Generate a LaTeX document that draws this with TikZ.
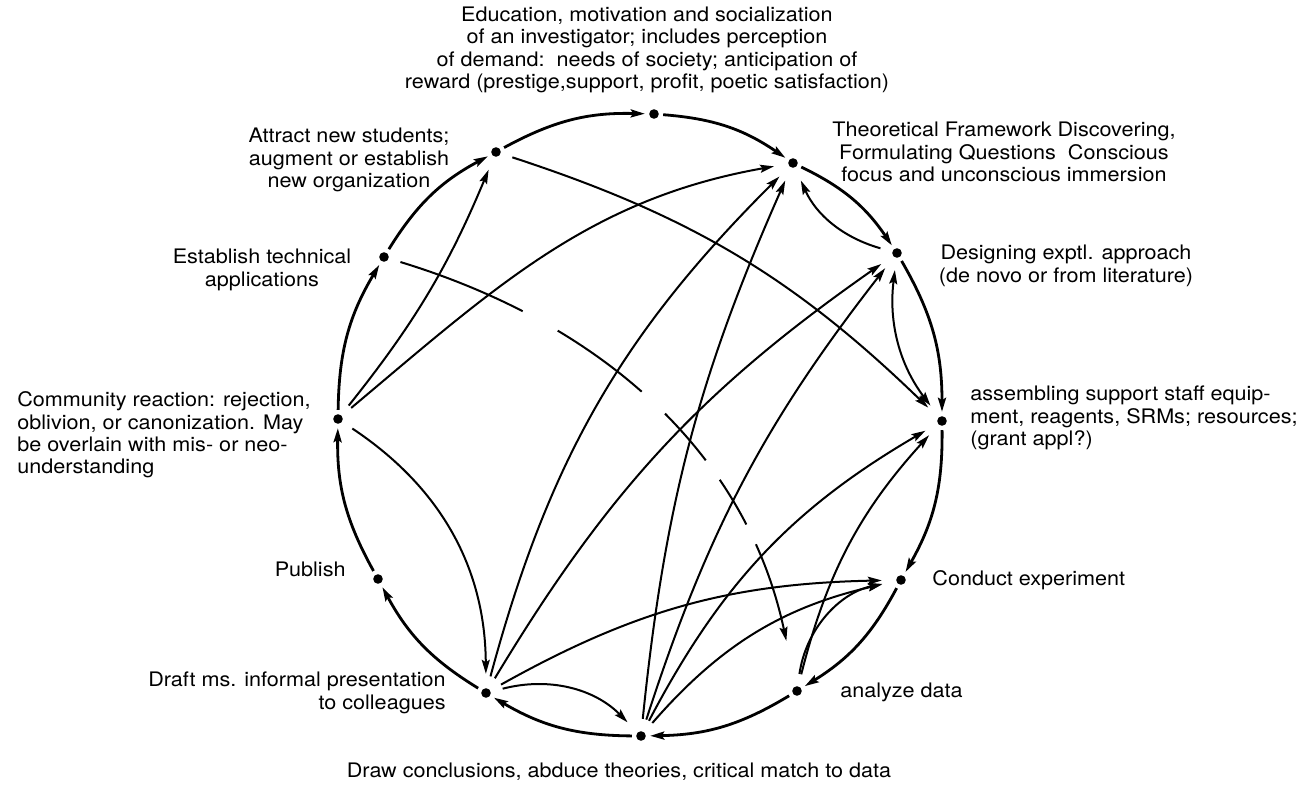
\documentclass[tikz,border=0pt]{standalone}
\usepackage{fontspec}
\setmainfont{TeX Gyre Heros}[FakeStretch=1.08]
\usetikzlibrary{arrows.meta}

\tikzset{
	dot/.style={circle,fill=black,inner sep=0pt,minimum size=4.8pt,outer sep=2.2pt},
	lbl/.style={inner sep=0pt,font=\fontsize{10pt}{11.2pt}\selectfont},
	tip/.style={-{Stealth[length=7pt,width=4pt,inset=1.2pt]}},
	rim/.style={line width=1.4pt,tip},
	link/.style={line width=1pt,tip,shorten >=5pt,shorten <=4pt},
}

\begin{document}
\begin{tikzpicture}[x=0.5pt,y=0.5pt]
	\useasboundingbox (-640,-365) rectangle (675,422);

	\node[dot] (edu) at (14,308) {};
	\node[dot] (theory) at (153,259) {};
	\node[dot] (design) at (257,169) {};
	\node[dot] (assemble) at (302,1) {};
	\node[dot] (conduct) at (261,-158) {};
	\node[dot] (analyze) at (157,-269) {};
	\node[dot] (conclude) at (1,-314) {};
	\node[dot] (draft) at (-154,-271) {};
	\node[dot] (publish) at (-262,-157) {};
	\node[dot] (community) at (-302,3) {};
	\node[dot] (establish) at (-256,165) {};
	\node[dot] (attract) at (-144,270) {};

	\node[lbl,align=center] (eduL) at (7,372) {Education, motivation and socialization\\of an investigator; includes perception\\of demand:\ \ needs of society; anticipation of\\reward (prestige,support, profit, poetic satisfaction)};
	\node[lbl,align=center] (theoryL) at (364,270) {Theoretical Framework Discovering,\\Formulating Questions\ \ Conscious\\focus and unconscious immersion};
	\node[lbl,align=center] (designL) at (426,156) {Designing exptl. approach\\(de novo or from literature)};
	\node[lbl,align=left,anchor=west] (assembleL) at (330,4) {assembling support staff equip-\\ment, reagents, SRMs; resources;\\(grant appl?)};
	\node[lbl,anchor=west] (conductL) at (292,-158) {Conduct experiment};
	\node[lbl,anchor=west] (analyzeL) at (200,-270) {analyze data};
	\node[lbl] (concludeL) at (-21,-350) {Draw conclusions, abduce theories, critical match to data};
	\node[lbl,align=right,anchor=east] (draftL) at (-194,-271) {Draft ms. informal presentation\\to colleagues};
	\node[lbl,anchor=east] (publishL) at (-294,-147) {Publish};
	\node[lbl,align=left,anchor=west] (communityL) at (-623,-13) {Community reaction: rejection,\\oblivion, or canonization. May\\be overlain with mis- or neo-\\understanding};
	\node[lbl,align=center] (establishL) at (-378,152) {Establish technical\\applications};
	\node[lbl,align=center] (attractL) at (-291,262) {Attract new students;\\augment or establish\\new organization};

	\draw[rim] (attract) to[bend left=15] (edu);
	\draw[rim] (edu) to[bend left=15] (theory);
	\draw[rim] (theory) to[bend left=15] (design);
	\draw[rim] (design) to[bend left=15] (assemble);
	\draw[rim] (assemble) to[bend left=15] (conduct);
	\draw[rim] (conduct) to[bend left=15] (analyze);
	\draw[rim] (analyze) to[bend left=15] (conclude);
	\draw[rim] (conclude) to[bend left=15] (draft);
	\draw[rim] (draft) to[bend left=15] (publish);
	\draw[rim] (publish) to[bend left=15] (community);
	\draw[rim] (community) to[bend left=15] (establish);
	\draw[rim] (establish) to[bend left=15] (attract);

	\draw[link] (design) to[bend left=25] (theory);
	\draw[link,{Stealth[length=7pt,width=4pt,inset=1.2pt]}-{Stealth[length=7pt,width=4pt,inset=1.2pt]}] (design) to[bend right=22] (assemble);
	\draw[link] (attract) to[bend left=13] (assemble);
	\draw[link] (community) to[bend right=8] (attract);
	\draw[link] (community) to[out=40,in=190] (theory);
	\draw[link] (community) to[bend left=28] (draft);
	\draw[link] (draft) to[bend left=30] (conclude);
	\draw[link] (draft) to[bend left=15] (theory);
	\draw[link] (draft) to[bend left=12] (design);
	\draw[link] (draft) to[bend left=14] (conduct);
	\draw[link] (conclude) to[bend left=9] (theory);
	\draw[link] (conclude) to[bend left=10] (design);
	\draw[link] (conclude) to[bend left=16] (assemble);
	\draw[link] (conclude) to[bend left=18] (conduct);
	\draw[link] (analyze) to[bend left=14] (assemble);
	\draw[link] (analyze) to[bend left=35] (conduct);
	\draw[link,dash pattern=on 66pt off 20pt on 52pt off 16pt on 31pt off 12pt on 26pt off 11pt on 200pt,shorten >=21pt] (establish) to[out=-17,in=102] (analyze);
\end{tikzpicture}
\end{document}
